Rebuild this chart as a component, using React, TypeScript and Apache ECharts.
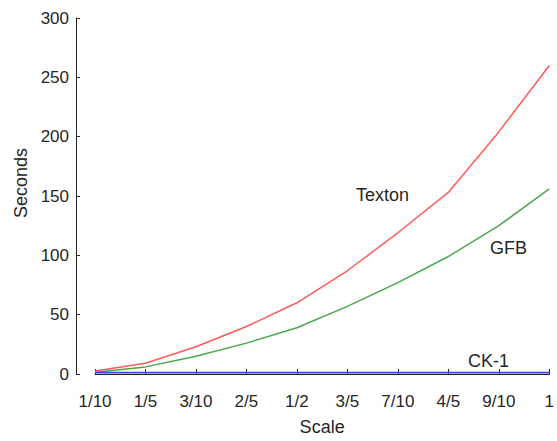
import React, { useEffect, useRef } from "react";
import * as echarts from "echarts";

const scales = ["1/10", "1/5", "3/10", "2/5", "1/2", "3/5", "7/10", "4/5", "9/10", "1"];
const texton = [2.5, 9, 23, 40, 60, 87, 119, 153, 204, 260];
const gfb = [1.5, 6, 15, 26, 39, 57, 77, 99, 125, 156];
const ck1 = [1.2, 1.2, 1.2, 1.2, 1.2, 1.2, 1.2, 1.2, 1.2, 1.2];
const yTicks = [0, 50, 100, 150, 200, 250, 300];

const FONT = "Liberation Sans";
const TXT = "#262626";

export default function App() {
  const ref = useRef<HTMLDivElement>(null);
  useEffect(() => {
    if (!ref.current) return;
    const chart = echarts.init(ref.current, null, { renderer: "svg" });
    chart.setOption({
      animation: false,
      backgroundColor: "#ffffff",
      grid: { left: 95, right: 3, top: 18, bottom: 441 - 382 },
      xAxis: {
        type: "category",
        data: scales,
        boundaryGap: false,
        offset: 14,
        name: "Scale",
        nameLocation: "middle",
        nameGap: 30,
        nameTextStyle: { fontFamily: FONT, fontSize: 18, color: TXT },
        axisLine: { lineStyle: { color: TXT, width: 1 } },
        axisTick: { inside: true, length: 5, lineStyle: { color: TXT } },
        axisLabel: { fontFamily: FONT, fontSize: 17, color: TXT, margin: 5, interval: 0 },
        splitLine: { show: false },
      },
      yAxis: {
        type: "value",
        min: yTicks[0],
        max: yTicks[yTicks.length - 1],
        interval: 50,
        offset: 19,
        axisLine: { show: true, lineStyle: { color: TXT, width: 1 } },
        axisTick: { show: true, inside: true, length: 4, lineStyle: { color: TXT } },
        axisLabel: { fontFamily: FONT, fontSize: 17, color: TXT, margin: 7, padding: [0, 0, 7, 0] },
        splitLine: { show: false },
      },
      graphic: [
        {
          type: "text",
          x: 21,
          y: 183,
          rotation: Math.PI / 2,
          style: { text: "Seconds", fontFamily: FONT, fontSize: 18, fill: TXT, align: "center", verticalAlign: "middle" },
        },
        {
          type: "text",
          x: 356,
          y: 195,
          style: { text: "Texton", fontFamily: FONT, fontSize: 18, fill: TXT, align: "left", verticalAlign: "middle" },
        },
        {
          type: "text",
          x: 490,
          y: 248,
          style: { text: "GFB", fontFamily: FONT, fontSize: 18, fill: TXT, align: "left", verticalAlign: "middle" },
        },
        {
          type: "text",
          x: 468,
          y: 361,
          style: { text: "CK-1", fontFamily: FONT, fontSize: 18, fill: TXT, align: "left", verticalAlign: "middle" },
        },
      ],
      series: [
        { name: "Texton", type: "line", data: texton, symbol: "none", lineStyle: { color: "#ff5a5a", width: 1.5 } },
        { name: "GFB", type: "line", data: gfb, symbol: "none", lineStyle: { color: "#4aa84a", width: 1.5 } },
        { name: "CK-1", type: "line", data: ck1, symbol: "none", lineStyle: { color: "#4040ff", width: 1.8 } },
      ],
    });
    return () => chart.dispose();
  }, []);
  return <div ref={ref} style={{ width: 557, height: 441, position: "absolute", left: 0, top: 0 }} />;
}
